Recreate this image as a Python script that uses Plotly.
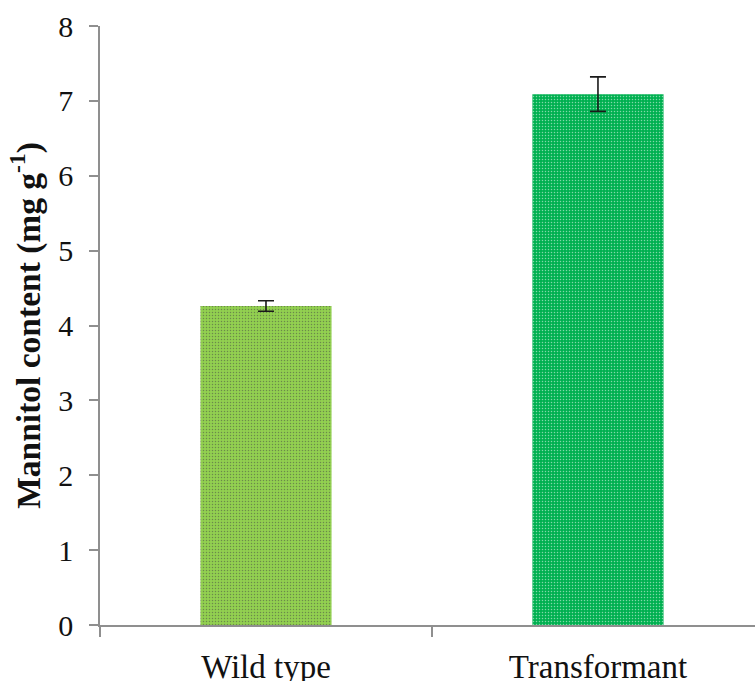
import plotly.graph_objects as go

categories = ["Wild type", "Transformant"]
values = [4.26, 7.09]
errors = [0.07, 0.23]
colors = ["#92D050", "#00B050"]
pattern_colors = ["#80C044", "#00A248"]
y_ticks = [0, 1, 2, 3, 4, 5, 6, 7, 8]

fig = go.Figure()
fig.add_trace(go.Bar(
    x=categories,
    y=values,
    width=0.395,
    marker=dict(
        color=colors,
        line=dict(width=0),
        pattern=dict(shape=".", size=3, solidity=0.2, fgcolor=pattern_colors, fillmode="overlay"),
    ),
    error_y=dict(type="data", array=errors, visible=True, color="#1A1A1A", thickness=1.6, width=8),
    showlegend=False,
))

axis_color = "#8F8F8F"
fig.update_layout(
    width=755,
    height=681,
    margin=dict(l=100, r=0, t=25.5, b=55.5, pad=0),
    plot_bgcolor="white",
    paper_bgcolor="white",
    font=dict(family="Liberation Serif, Times New Roman, serif", color="#111111"),
    xaxis=dict(
        type="category",
        range=[-0.5, 1.473],
        automargin=False,
        showline=True,
        linecolor=axis_color,
        linewidth=1.5,
        ticks="outside",
        tickson="boundaries",
        ticklen=10,
        tickcolor=axis_color,
        tickwidth=1.5,
        tickfont=dict(size=33, family="Liberation Serif", color="#111111"),
        ticklabelstandoff=12,
        showgrid=False,
        zeroline=False,
    ),
    yaxis=dict(
        range=[0, 8],
        automargin=False,
        tickvals=y_ticks,
        showline=True,
        linecolor=axis_color,
        linewidth=1.5,
        ticks="outside",
        ticklen=9,
        tickcolor=axis_color,
        tickwidth=1.5,
        tickfont=dict(size=30, family="Liberation Serif", color="#111111"),
        ticklabelstandoff=10,
        showgrid=False,
        zeroline=False,
        title=dict(
            text="<b>Mannitol content (mg g<sup>-1</sup>)</b>",
            font=dict(size=33.5, family="Liberation Serif", color="#111111"),
            standoff=8,
        ),
    ),
)

fig.write_html(
    "out.html",
    config={"displayModeBar": False},
    post_script="document.body.style.margin='0';document.body.style.overflow='hidden';",
)
